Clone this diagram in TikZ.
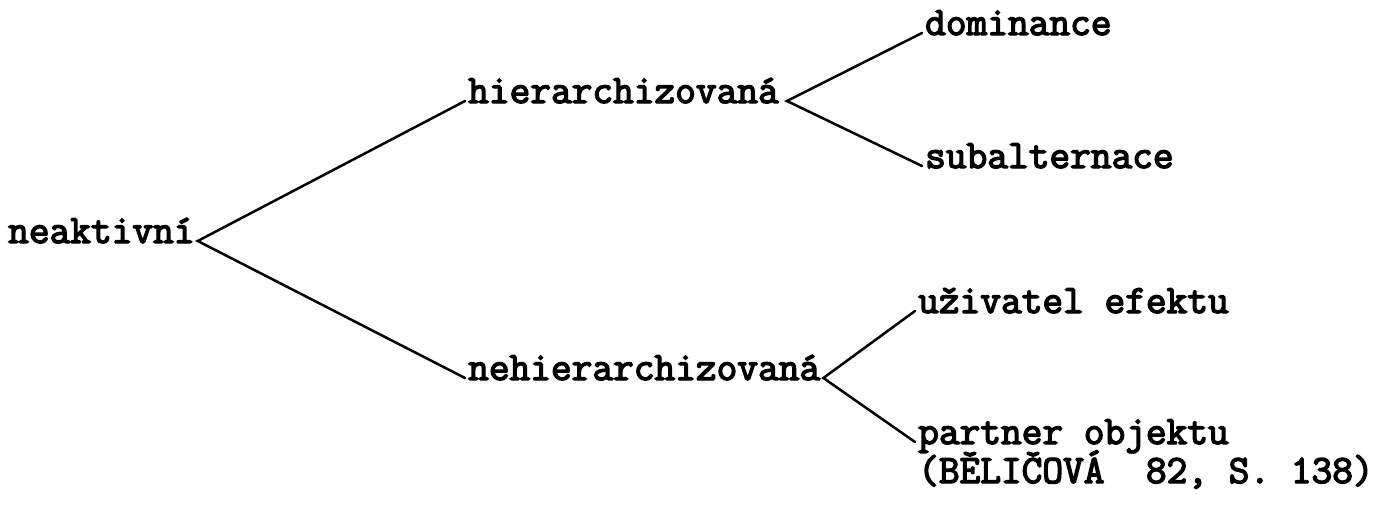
\documentclass[tikz,border=0pt]{standalone}
\usepackage{fontspec}
\setmonofont{Latin Modern Mono}[FakeBold=3.5]
\begin{document}
\begin{tikzpicture}[x=1pt,y=-1pt,
  term/.style={anchor=base west, inner xsep=3pt, inner ysep=0pt,
    text height=0.4em, text depth=0pt,
    font=\ttfamily\fontsize{40.2}{33}\selectfont},
  branch/.style={line width=2.5pt, line cap=round, line join=miter}]
  \useasboundingbox (0,0) rectangle (1385,506);

  % terms of the classification
  \node[term] (root)  at (5,243)   {neaktivní};
  \node[term] (hier)  at (465,103) {hierarchizovaná};
  \node[term] (nehier) at (465,380) {nehierarchizovaná};
  \node[term] (dom)   at (922,35)  {dominance};
  \node[term] (sub)   at (922,168) {subalternace};
  \node[term] (uziv)  at (915,313) {uživatel efektu};
  \node[term] (part)  at (915,444) {partner objektu};
  \node[term] (src)   at (915,483) {(BĚLIČOVÁ~~82, S. 138)};

  % forks
  \draw[branch] (hier.west) -- (root.east) -- (nehier.west);
  \draw[branch] (dom.west) -- ([xshift=5pt]hier.east) -- (sub.west);
  \draw[branch] (uziv.west) -- (nehier.east) -- (part.west);
\end{tikzpicture}
\end{document}
